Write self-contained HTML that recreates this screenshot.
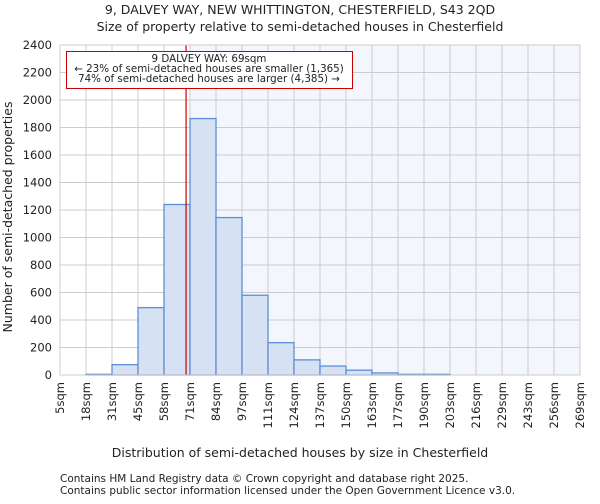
<!DOCTYPE html>
<html><head><meta charset="utf-8"><style>
body{margin:0;background:#fff;font-family:"DejaVu Sans","Liberation Sans",sans-serif}
svg text{font-family:"DejaVu Sans","Liberation Sans",sans-serif;fill:#222}
</style></head><body>
<svg id="c" width="600" height="500">
<text x="300" y="14" font-size="12.5" text-anchor="middle">9, DALVEY WAY, NEW WHITTINGTON, CHESTERFIELD, S43 2QD</text>
<text x="300" y="31" font-size="12.5" text-anchor="middle">Size of property relative to semi-detached houses in Chesterfield</text>
<g id="plot"></g>
<text x="300" y="457" font-size="12.5" text-anchor="middle">Distribution of semi-detached houses by size in Chesterfield</text>
<text transform="translate(12,217) rotate(-90)" font-size="12.5" text-anchor="middle">Number of semi-detached properties</text>
<text x="60" y="482" font-size="10.5" fill="#444">Contains HM Land Registry data © Crown copyright and database right 2025.</text>
<text x="60" y="494" font-size="10.5" fill="#444">Contains public sector information licensed under the Open Government Licence v3.0.</text>
</svg>
<script>
const tickLabels=["5sqm","18sqm","31sqm","45sqm","58sqm","71sqm","84sqm","97sqm","111sqm","124sqm","137sqm","150sqm","163sqm","177sqm","190sqm","203sqm","216sqm","229sqm","243sqm","256sqm","269sqm"];
const counts=[0,5,75,490,1240,1865,1145,580,235,110,65,35,15,5,5,0,0,0,0,0];
const yTicks=[0,200,400,600,800,1000,1200,1400,1600,1800,2000,2200,2400];
const propertySize=69, minSize=5, maxSize=269;
const L=60,R=580,T=45,B=375,yMax=2400;
const NS="http://www.w3.org/2000/svg";
const g=document.getElementById('plot');
const xs=v=>L+(v-minSize)/(maxSize-minSize)*(R-L);
const ys=v=>B-v/yMax*(B-T);
const bw=(R-L)/counts.length;
function mk(t,a){const e=document.createElementNS(NS,t);for(const k in a)e.setAttribute(k,a[k]);g.appendChild(e);return e;}
const px=xs(propertySize);
const hiStart=L+Math.ceil((px-L)/bw)*bw;
let e=mk('rect',{x:hiStart,y:T,width:R-hiStart,height:B-T,fill:'#f3f6fd'});


tickLabels.forEach((t,i)=>{const x=L+i*bw;
 let l=mk('line',{x1:x,x2:x,y1:T,y2:B,stroke:'#ccc','stroke-width':1});
 
 
 let tx=mk('text',{transform:`translate(${x+4},382) rotate(-90)`,'font-size':'11.5','text-anchor':'end'});
 tx.textContent=t;
 
 
});
yTicks.forEach(v=>{const y=ys(v);
 let l=mk('line',{x1:L,x2:R,y1:y,y2:y,stroke:'#ccc','stroke-width':1});
 
 
 let tx=mk('text',{x:52,y:y+4,'font-size':'11.5','text-anchor':'end'});
 tx.textContent=v;
 
 
});
counts.forEach((c,i)=>{if(c<=0)return;const x=L+i*bw;
 let r=mk('rect',{x:x,y:ys(c),width:bw,height:B-ys(c),fill:'#d6e1f3',stroke:'#5b8fd6','stroke-width':1.3});
 
 
});
e=mk('line',{x1:px,x2:px,y1:T,y2:B,stroke:'#cc0000','stroke-width':1.2});


e=mk('rect',{x:L,y:T,width:R-L,height:B-T,fill:'none',stroke:'#ccc'});


e=mk('rect',{x:66.5,y:51.5,width:286,height:37,fill:'#fff',stroke:'#cc0000','stroke-width':1});


["9 DALVEY WAY: 69sqm","← 23% of semi-detached houses are smaller (1,365)","74% of semi-detached houses are larger (4,385) →"].forEach((s,i)=>{
 let t=mk('text',{x:209,y:62+i*10,'font-size':'10.3','text-anchor':'middle'});
 t.textContent=s;
 
 
});
</script>
</body></html>
